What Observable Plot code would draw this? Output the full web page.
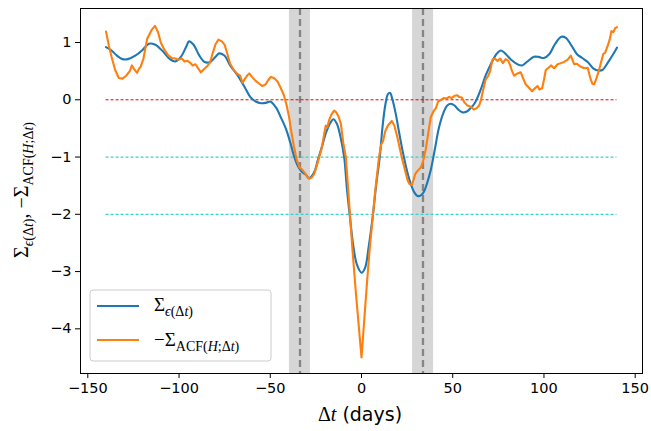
<!DOCTYPE html>
<html>
<head>
<meta charset="utf-8">
<script src="https://cdn.jsdelivr.net/npm/d3@7"></script>
<script src="https://cdn.jsdelivr.net/npm/@observablehq/plot@0.6"></script>
<style>
  html, body { margin: 0; padding: 0; background: white; }
  svg { display: block; }
</style>
</head>
<body>
<script>
// ---- data ----
const xDomain = [-154, 154];
const yDomain = [-4.78, 1.594];
const xTicks = [-150, -100, -50, 0, 50, 100, 150];
const yTicks = [-4, -3, -2, -1, 0, 1];

// Σ_ε(Δt)
const sigmaEpsX = [-140,-137,-134,-131,-128,-124,-120,-116.5,-113,-109,-105,-102,-99,-96,-94.5,-92,-89,-86,-83,-80,-78,-75,-72,-68,-64,-61,-58,-55,-52,-50,-47,-44,-41.5,-39,-37,-35,-33,-30.5,-28.7,-26,-24,-21.5,-19.5,-17,-15.4,-13.5,-11.5,-9.5,-8,-6.5,-4.5,-2.5,0,2,4,6.3,8,10,11.5,13,14.5,15.7,17,18.8,20.5,22.5,25,27,29,30.7,32.5,34.3,36,38,40,42.5,45,47,49,51,53,55.4,58,60,62,65,68,71,74,76.4,79,82,85.5,88,91,94.5,97,100,103,106,109.5,112,115,118,121,124,127,130,132,135,138,140];
const sigmaEpsY = [0.92,0.86,0.77,0.71,0.71,0.77,0.87,0.98,0.96,0.85,0.71,0.67,0.75,0.93,1.02,0.96,0.78,0.66,0.66,0.75,0.81,0.77,0.6,0.43,0.22,0.05,-0.03,-0.06,-0.05,-0.03,-0.13,-0.32,-0.5,-0.75,-0.98,-1.15,-1.25,-1.31,-1.37,-1.27,-1.06,-0.8,-0.58,-0.4,-0.34,-0.42,-0.65,-1.0,-1.55,-2.0,-2.55,-2.88,-3.02,-2.93,-2.55,-2.0,-1.5,-1.0,-0.48,-0.1,0.1,0.12,0.0,-0.25,-0.55,-0.89,-1.25,-1.47,-1.62,-1.68,-1.67,-1.6,-1.45,-1.22,-0.9,-0.48,-0.22,-0.1,-0.07,-0.1,-0.17,-0.22,-0.2,-0.14,-0.06,0.15,0.42,0.63,0.8,0.86,0.8,0.7,0.62,0.6,0.67,0.75,0.75,0.73,0.8,0.97,1.1,1.08,0.95,0.8,0.73,0.66,0.55,0.51,0.52,0.65,0.8,0.91];

// −Σ_ACF(H;Δt)
const sigmaAcfX = [-140,-138.5,-137,-135,-133,-131,-129,-127,-125.8,-124.5,-123,-122,-121,-119.5,-117.5,-115,-113.2,-111.5,-110,-108,-106,-104,-102,-100.5,-98.5,-97,-95.4,-94,-92.5,-91,-89.5,-88,-86.5,-84.5,-83,-81.5,-80,-78.4,-76.5,-75,-73.5,-72,-70,-68,-66.5,-65.2,-64,-62.5,-61.5,-60,-58,-56,-54.3,-52.5,-51,-49.7,-48,-46,-44.2,-42.5,-41,-39.7,-38.5,-37,-35.5,-34,-32.5,-31,-29.5,-28.7,-27.3,-26,-24.5,-23,-22,-21,-20.2,-19.6,-18.7,-17.8,-16.5,-15,-13.8,-12.5,-11.3,-10,-8.6,-7,-5,-3,-1.5,0,1.5,3,4.5,6,7.5,9.6,10.8,11.8,13,14.5,16.6,18,19.7,21,22.5,24,25.2,26.3,27.6,28.5,29.4,30.5,32.5,33.5,34.3,35.3,36.2,37.2,38,39.5,40.7,42,43.5,45,46.5,48,49.5,51,52.6,53.5,55,56.5,58,60,61.5,63,64.5,65.5,66.5,68,69.5,70.5,71.8,73,74.5,76,77.5,79,80.5,81.5,82.5,83.7,85.5,87.3,88.5,90,91.5,93.5,95,96.5,97.5,99,100,101,102.5,104,105.5,107.5,109.3,111,113,114.7,116.6,118,120,122,124,125.2,126.5,127.5,128.5,130,131,132.5,133.5,135,136,137,138,139,140];
const sigmaAcfY = [1.19,0.95,0.75,0.52,0.38,0.37,0.42,0.5,0.6,0.53,0.47,0.54,0.58,0.72,1.06,1.22,1.29,1.18,1.0,0.87,0.78,0.73,0.72,0.7,0.72,0.67,0.68,0.65,0.6,0.62,0.55,0.48,0.53,0.59,0.65,0.82,0.97,1.05,1.02,0.96,0.8,0.63,0.52,0.45,0.42,0.3,0.36,0.43,0.46,0.4,0.33,0.28,0.24,0.27,0.35,0.4,0.38,0.32,0.2,0.08,-0.1,-0.3,-0.55,-0.82,-1.05,-1.18,-1.22,-1.28,-1.35,-1.38,-1.36,-1.3,-1.15,-0.98,-0.87,-0.7,-0.55,-0.45,-0.48,-0.36,-0.26,-0.19,-0.22,-0.3,-0.42,-0.75,-1.0,-1.7,-2.6,-3.4,-3.95,-4.5,-3.85,-3.2,-2.6,-2.1,-1.6,-1.0,-0.78,-0.72,-0.55,-0.45,-0.37,-0.45,-0.66,-0.85,-1.06,-1.25,-1.4,-1.47,-1.49,-1.4,-1.3,-1.25,-1.18,-1.1,-1.0,-0.85,-0.66,-0.45,-0.3,-0.2,-0.15,-0.03,0.0,0.03,0.02,0.05,0.03,0.07,0.08,0.05,0.04,-0.05,-0.1,-0.12,-0.17,-0.15,-0.1,0.0,0.15,0.35,0.42,0.5,0.7,0.72,0.68,0.72,0.64,0.71,0.68,0.6,0.5,0.42,0.46,0.48,0.38,0.27,0.22,0.15,0.2,0.24,0.18,0.2,0.35,0.52,0.56,0.6,0.55,0.62,0.64,0.66,0.7,0.77,0.62,0.63,0.58,0.55,0.56,0.4,0.28,0.27,0.35,0.5,0.62,0.8,0.82,0.95,1.05,1.2,1.18,1.25,1.27];

// reference levels and marked lags
const zeroLevel = [0];
const cyanLevels = [-1, -2];
const levelExtent = [-140, 140];
const lagCenters = [-33.7, 33.7];
const lagSpanLo = [-39.5, 28.0];
const lagSpanHi = [-28.0, 39.5];

// ---- tables ----
const blue = sigmaEpsX.map((x, i) => ({x, y: sigmaEpsY[i]}));
const orange = sigmaAcfX.map((x, i) => ({x, y: sigmaAcfY[i]}));
const spans = lagSpanLo.map((lo, i) => ({x1: lo, x2: lagSpanHi[i], y1: yDomain[0], y2: yDomain[1]}));
const zeroRule = zeroLevel.map(y => ({y, x1: levelExtent[0], x2: levelExtent[1]}));
const cyanRules = cyanLevels.map(y => ({y, x1: levelExtent[0], x2: levelExtent[1]}));

const fmt = d => (d < 0 ? "\u2212" : "") + Math.abs(d);

const chart = Plot.plot({
  width: 651,
  height: 431,
  marginLeft: 80,
  marginRight: 9,
  marginTop: 8,
  marginBottom: 58,
  style: {fontFamily: "DejaVu Sans", fontSize: "14.5px", background: "white", color: "black"},
  x: {domain: xDomain},
  y: {domain: yDomain},
  marks: [
    Plot.rect(spans, {x1: "x1", x2: "x2", y1: "y1", y2: "y2", fill: "#d6d6d6"}),
    Plot.ruleX(lagCenters, {stroke: "#858585", strokeWidth: 2.3, strokeDasharray: "7,4"}),
    Plot.ruleY(zeroRule, {y: "y", x1: "x1", x2: "x2", stroke: "#ee0000", strokeWidth: 1, strokeDasharray: "3,2"}),
    Plot.ruleY(cyanRules, {y: "y", x1: "x1", x2: "x2", stroke: "#3ccfcf", strokeWidth: 1.2, strokeDasharray: "3,2"}),
    Plot.line(blue, {x: "x", y: "y", stroke: "#1f77b4", strokeWidth: 2.1, curve: "catmull-rom"}),
    Plot.line(orange, {x: "x", y: "y", stroke: "#ff7f0e", strokeWidth: 2.1, curve: "linear"}),
    Plot.frame({stroke: "black", strokeWidth: 1}),
    Plot.axisX({ticks: xTicks, tickFormat: fmt, tickSize: 5, tickPadding: 4, fontSize: 14.5, label: null}),
    Plot.axisY({ticks: yTicks, tickFormat: fmt, tickSize: 5, tickPadding: 4, fontSize: 14.5, label: null})
  ]
});
document.body.appendChild(chart);

// ---- math-style labels ----
const svg = d3.select(chart);
const serif = "'Liberation Serif', 'DejaVu Serif', serif";

// segments: [text, sub, italic]
function mathText(sel, segs, size, subSize, subShift) {
  let inSub = false;
  segs.forEach(([t, sub, it]) => {
    const ts = sel.append("tspan").text(t)
      .style("font-size", (sub ? subSize : size) + "px")
      .style("font-style", it ? "italic" : "normal");
    if (sub && !inSub) ts.attr("dy", subShift);
    if (!sub && inSub) ts.attr("dy", -subShift);
    inSub = sub;
  });
}

const epsSegs = [["Σ", false, false], ["ϵ", true, true], ["(Δ", true, false], ["t", true, true], [")", true, false]];
const acfSegs = [["−Σ", false, false], ["ACF(", true, false], ["H", true, true], [";Δ", true, false], ["t", true, true], [")", true, false]];

// y label
const yl = svg.append("text")
  .attr("transform", "translate(28,190) rotate(-90)")
  .style("text-anchor", "middle")
  .style("font-family", serif)
  .attr("fill", "black");
mathText(yl, [...epsSegs, [", ", false, false], ...acfSegs], 20, 14, 4.5);

// x label
const xl = svg.append("text")
  .attr("x", 360).attr("y", 421)
  .style("text-anchor", "middle")
  .style("font-family", "DejaVu Sans")
  .style("font-size", "19px")
  .attr("fill", "black");
xl.append("tspan").style("font-family", serif).style("font-size", "20px").text("Δ");
xl.append("tspan").style("font-family", serif).style("font-size", "20px").style("font-style", "italic").text("t");
xl.append("tspan").text(" (days)");

// legend
const lg = svg.append("g");
lg.append("rect").attr("x", 90).attr("y", 290).attr("width", 181).attr("height", 71)
  .attr("rx", 3).attr("fill", "white").attr("fill-opacity", 0.8)
  .attr("stroke", "#cccccc").attr("stroke-width", 1);
const entries = [
  {color: "#1f77b4", segs: epsSegs, y: 306, base: 311},
  {color: "#ff7f0e", segs: acfSegs, y: 340, base: 346}
];
entries.forEach(e => {
  lg.append("line").attr("x1", 97).attr("x2", 139).attr("y1", e.y).attr("y2", e.y)
    .attr("stroke", e.color).attr("stroke-width", 2);
  const t = lg.append("text").attr("x", 154).attr("y", e.base)
    .style("text-anchor", "start")
    .style("font-family", serif).attr("fill", "black");
  mathText(t, e.segs, 19, 14, 4.5);
});
</script>
</body>
</html>
